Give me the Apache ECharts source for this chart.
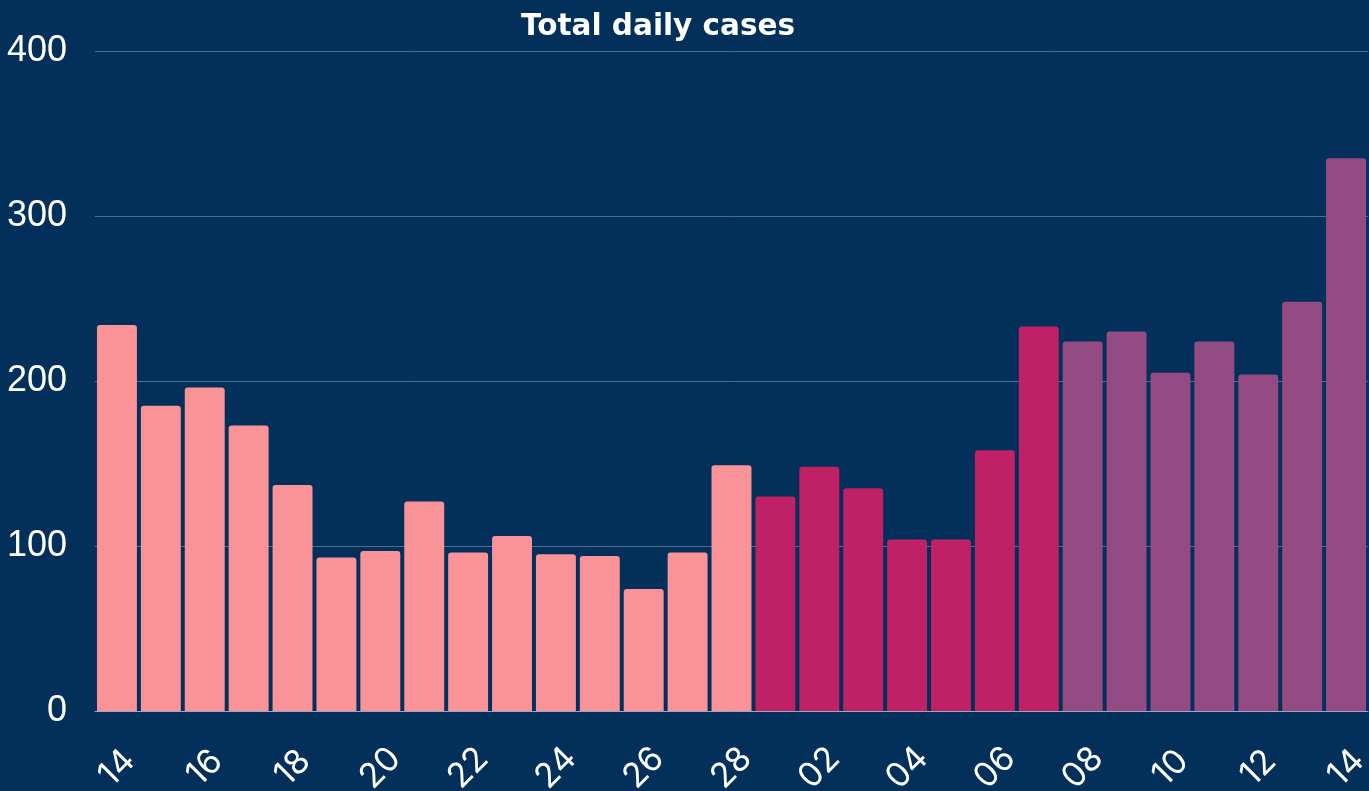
<!DOCTYPE html>
<html><head><meta charset="utf-8">
<style>html,body{margin:0;padding:0;background:#03305A;}#c{width:1369px;height:791px;}</style>
<script src="https://cdn.jsdelivr.net/npm/echarts@6/dist/echarts.min.js"></script>
</head><body><div id="c"></div>
<script>
const categories = ['14','15','16','17','18','19','20','21','22','23','24','25','26','27','28',
  '01','02','03','04','05','06','07','08','09','10','11','12','13','14'];
const values = [234,185,196,173,137,93,97,127,96,106,95,94,74,96,149,
  130,148,135,104,104,158,233,224,230,205,224,204,248,335];
const groupColors = ['#F99397','#BF2066','#944A82'];
const groupOfBar = [0,0,0,0,0,0,0,0,0,0,0,0,0,0,0, 1,1,1,1,1,1,1, 2,2,2,2,2,2,2];
const yTicks = [0,100,200,300,400];

const chart = echarts.init(document.getElementById('c'));
chart.setOption({
  backgroundColor: '#03305A',
  animation: false,
  title: {
    text: 'Total daily cases', left: 521, top: 12, padding: 0,
    textStyle: {color: '#FFFFFF', fontFamily: 'DejaVu Sans', fontWeight: 'bold', fontSize: 29.5}
  },
  grid: {left: 95, right: 1, top: 51, bottom: 80, outerBoundsMode: 'none', containLabel: false},
  xAxis: {
    type: 'category', data: categories,
    axisLine: {lineStyle: {color: '#9AA9BD', width: 1}},
    axisTick: {show: false},
    axisLabel: {interval: 1, rotate: 45, align: 'center', verticalAlign: 'middle', margin: 57,
      color: '#FFFFFF', fontFamily: 'Inter', fontSize: 34}
  },
  yAxis: {
    type: 'value', min: yTicks[0], max: yTicks[yTicks.length-1], interval: 100,
    axisLine: {show: false}, axisTick: {show: false},
    splitLine: {lineStyle: {color: '#4D6C8F', width: 1}},
    axisLabel: {color: '#FFFFFF', fontFamily: 'Liberation Sans', fontSize: 36, margin: 28}
  },
  series: [{
    type: 'bar', barCategoryGap: '9%',
    data: values.map((v, i) => ({value: v, itemStyle: {color: groupColors[groupOfBar[i]]}})),
    itemStyle: {borderRadius: [3,3,0,0]}
  }]
});
</script></body></html>
